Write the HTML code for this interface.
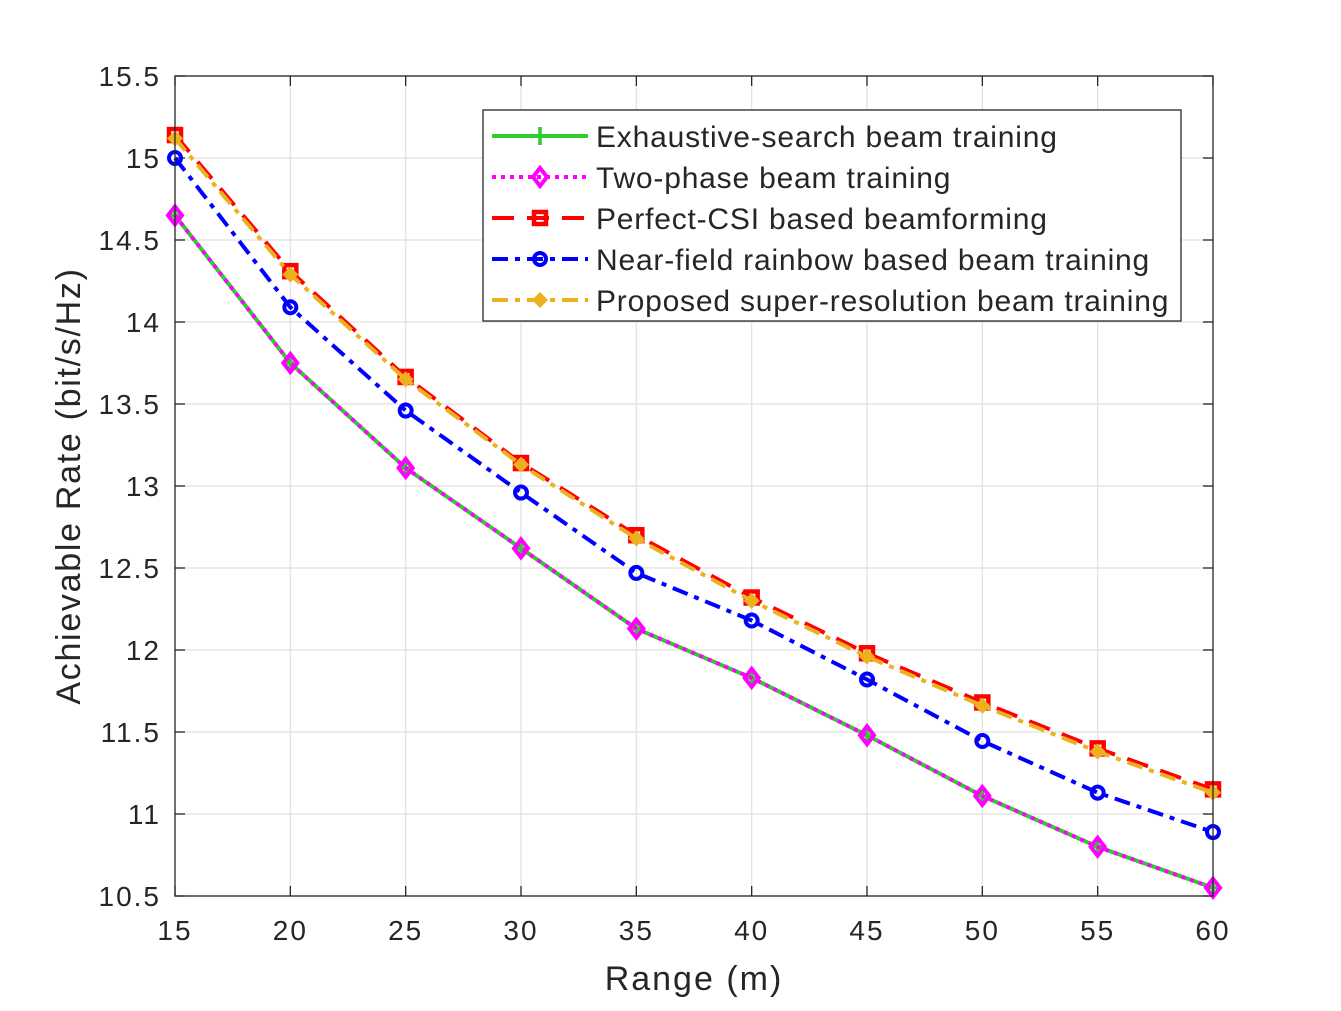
<!DOCTYPE html>
<html><head><meta charset="utf-8"><style>
body{margin:0;background:#fff;}
svg text{font-family:"Liberation Sans",sans-serif;fill:#262626;}
</style></head><body>
<svg id="chart" width="1341" height="1006">
<rect x="0" y="0" width="1341" height="1006" fill="#fff"/>
<g id="grid"></g><g id="ticks"></g><g id="series"></g>
<rect x="175" y="76" width="1038" height="820" fill="none" stroke="#262626" stroke-width="1.3"/>
<text x="694" y="990" font-size="34" letter-spacing="2" text-anchor="middle">Range (m)</text>
<text transform="translate(80,486) rotate(-90)" font-size="34" letter-spacing="1.7" text-anchor="middle">Achievable Rate (bit/s/Hz)</text>
<g id="legend">
<rect x="483" y="110" width="698" height="211" fill="#fff" stroke="#262626" stroke-width="1.3"/>
</g>
</svg>
<script>
const ranges=[15,20,25,30,35,40,45,50,55,60];
const xTicks=[15,20,25,30,35,40,45,50,55,60];
const yTicks=[10.5,11,11.5,12,12.5,13,13.5,14,14.5,15,15.5];
const exhaustive=[14.65,13.75,13.11,12.62,12.13,11.83,11.48,11.11,10.80,10.55];
const twoPhase=[14.65,13.75,13.11,12.62,12.13,11.83,11.48,11.11,10.80,10.55];
const perfect=[15.14,14.31,13.665,13.14,12.70,12.32,11.98,11.68,11.40,11.15];
const nearField=[15.0,14.09,13.46,12.96,12.47,12.18,11.82,11.445,11.13,10.89];
const proposed=[15.12,14.29,13.65,13.13,12.68,12.30,11.96,11.66,11.38,11.13];
const seriesNames=["Exhaustive-search beam training","Two-phase beam training","Perfect-CSI based beamforming","Near-field rainbow based beam training","Proposed super-resolution beam training"];

const NS="http://www.w3.org/2000/svg";
const X=v=>175+(v-15)*1038/45;
const Y=v=>896-(v-10.5)*164;
function mk(tag,attrs,parent){const e=document.createElementNS(NS,tag);for(const k in attrs)e.setAttribute(k,attrs[k]);parent.appendChild(e);return e;}
const grid=document.getElementById('grid'),ticks=document.getElementById('ticks'),ser=document.getElementById('series'),leg=document.getElementById('legend');
xTicks.forEach(t=>{
 const g=mk('line',{x1:X(t),x2:X(t),y1:76,y2:896,stroke:'#e0e0e0','stroke-width':1.2},grid);
 
 
 mk('line',{x1:X(t),x2:X(t),y1:896,y2:886,stroke:'#262626','stroke-width':1.3},ticks);
 mk('line',{x1:X(t),x2:X(t),y1:76,y2:86,stroke:'#262626','stroke-width':1.3},ticks);
 const l=mk('text',{x:X(t),y:940,'font-size':28,'letter-spacing':2,'text-anchor':'middle'},ticks);l.textContent=t;
 
 
});
yTicks.forEach(t=>{
 const g=mk('line',{x1:175,x2:1213,y1:Y(t),y2:Y(t),stroke:'#e0e0e0','stroke-width':1.2},grid);
 
 
 mk('line',{x1:175,x2:185,y1:Y(t),y2:Y(t),stroke:'#262626','stroke-width':1.3},ticks);
 mk('line',{x1:1213,x2:1203,y1:Y(t),y2:Y(t),stroke:'#262626','stroke-width':1.3},ticks);
 const l=mk('text',{x:161,y:Y(t)+10,'font-size':28,'letter-spacing':2,'text-anchor':'end'},ticks);l.textContent=t;
 
 
});
function marker(type,x,y,color,p){
 if(type==='plus'){mk('path',{d:`M${x-8} ${y}H${x+8}M${x} ${y-9}V${y+9}`,stroke:color,'stroke-width':3.5},p);}
 else if(type==='diamond'){mk('path',{d:`M${x} ${y-9}L${x+7} ${y}L${x} ${y+9}L${x-7} ${y}Z`,stroke:color,'stroke-width':4,fill:'none'},p);}
 else if(type==='square'){mk('rect',{x:x-6,y:y-6,width:12,height:12,stroke:color,'stroke-width':4.5,fill:'none'},p);}
 else if(type==='circle'){mk('circle',{cx:x,cy:y,r:6,stroke:color,'stroke-width':4,fill:'none'},p);}
 else if(type==='filled'){mk('path',{d:`M${x} ${y-8}L${x+8} ${y}L${x} ${y+8}L${x-8} ${y}Z`,fill:color},p);}
}
const styles=[
 {data:exhaustive,color:'#2ecc2e',dash:'',m:'plus',name:'series-exhaustive'},
 {data:perfect,color:'#ff0000',dash:'22 13',m:'square',name:'series-perfect-csi'},
 {data:nearField,color:'#0000ff',dash:'16 7 5 7',m:'circle',name:'series-near-field'},
 {data:proposed,color:'#edb120',dash:'16 7 5 7',m:'filled',name:'series-proposed'},
 {data:twoPhase,color:'#ff00ff',dash:'4 5',m:'diamond',name:'series-two-phase'}
];
const legOrder=[0,4,1,2,3];
styles.forEach(s=>{
 const g=mk('g',{},ser);
 
 
 const pts=s.data.map((v,i)=>X(ranges[i])+','+Y(v)).join(' ');
 mk('polyline',{points:pts,fill:'none',stroke:s.color,'stroke-width':4,'stroke-dasharray':s.dash},g);
 s.data.forEach((v,i)=>marker(s.m,X(ranges[i]),Y(v),s.color,g));
});
legOrder.forEach((si,row)=>{
 const s=styles[si];const y=136+row*41;
 const g=mk('g',{},leg);
 
 
 mk('line',{x1:492,x2:588,y1:y,y2:y,stroke:s.color,'stroke-width':4,'stroke-dasharray':s.dash},g);
 marker(s.m,540,y,s.color,g);
 const t=mk('text',{x:596,y:y+11,'font-size':30,'letter-spacing':0.8},g);t.textContent=seriesNames[row];
});
</script>
</body></html>
